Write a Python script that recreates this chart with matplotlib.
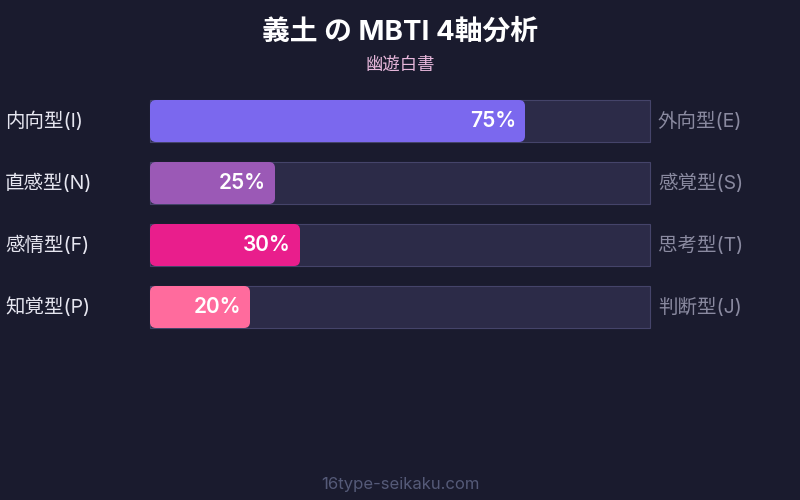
import matplotlib
matplotlib.use("Agg")
import matplotlib.pyplot as plt
from matplotlib.patches import FancyBboxPatch, Rectangle

# --- data ---
left_labels = ["内向型(I)", "直感型(N)", "感情型(F)", "知覚型(P)"]
right_labels = ["外向型(E)", "感覚型(S)", "思考型(T)", "判断型(J)"]
percents = [75, 25, 30, 20]
bar_colors = ["#7b68ee", "#9b59b6", "#e91e8c", "#ff6b9d"]

title = "義土 の MBTI 4軸分析"
subtitle = "幽遊白書"
footer = "16type-seikaku.com"

BG = "#1a1b2e"
TRACK = "#2c2b48"
TRACK_EDGE = "#45446a"
FONTS = ["Inter", "Noto Sans CJK JP", "DejaVu Sans"]

fig = plt.figure(figsize=(8, 5), dpi=100, facecolor=BG)
ax = fig.add_axes([0, 0, 1, 1])
ax.set_facecolor(BG)
# 0..100 maps onto pixel 150..650
ax.set_xlim(-30, 130)
row_px = 62.0
ax.set_ylim((500 - 121) / row_px, -121 / row_px)
ax.axis("off")

bar_h = 42 / row_px
rx = 1.2  # ~6px corner radius in x units
aspect = (6 / row_px) / rx

for i, (pct, col) in enumerate(zip(percents, bar_colors)):
    ax.add_patch(Rectangle((0, i - bar_h / 2), 100, bar_h, facecolor=TRACK,
                           edgecolor=TRACK_EDGE, linewidth=0.8, zorder=1))
    ax.add_patch(FancyBboxPatch((0, i - bar_h / 2), pct, bar_h,
                                boxstyle=f"round,pad=0,rounding_size={rx}",
                                mutation_aspect=aspect, facecolor=col,
                                edgecolor="none", zorder=2))
    ax.text(pct - 1.8, i, f"{pct}%", ha="right", va="center", color="white",
            fontsize=15, fontweight="semibold", family=FONTS, zorder=3)
    ax.text(-29, i, left_labels[i], ha="left", va="center", color="#e6e6f0",
            fontsize=14, family=FONTS)
    ax.text(101.6, i, right_labels[i], ha="left", va="center", color="#8a8aa0",
            fontsize=14, family=FONTS)

fig.text(0.5, 1 - 33 / 500, title, ha="center", va="center", color="white",
         fontsize=20, fontweight="bold", family=FONTS)
fig.text(0.5, 1 - 65 / 500, subtitle, ha="center", va="center", color="#e8b8dc",
         fontsize=12.5, family=FONTS)
fig.text(0.5, 1 - 485 / 500, footer, ha="center", va="center", color="#555a78",
         fontsize=12, family=FONTS)

fig.savefig("out.png", dpi=100, facecolor=BG)
